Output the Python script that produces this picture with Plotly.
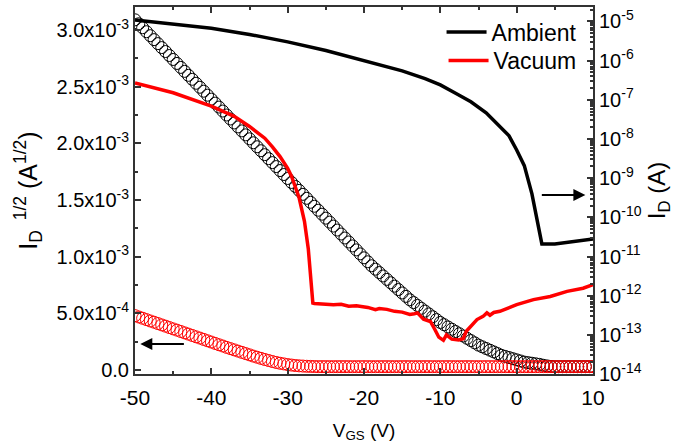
import plotly.graph_objects as go

# ---------------- data ----------------
vgs = [-50 + 0.5 * i for i in range(121)]  # 0.5 V steps, -50 .. 10

# sqrt(ID) ambient (x1e-3 A^1/2)
sqrt_ambient = [3.09, 3.055, 3.02, 2.985, 2.95, 2.915, 2.88, 2.845, 2.81, 2.775,
                2.74, 2.705, 2.67, 2.635, 2.60, 2.565, 2.53, 2.495, 2.46, 2.425,
                2.39, 2.355, 2.32, 2.285, 2.25, 2.215, 2.18, 2.145, 2.11, 2.075,
                2.04, 2.005, 1.97, 1.935, 1.90, 1.865, 1.83, 1.795, 1.76, 1.725,
                1.69, 1.655, 1.62, 1.585, 1.55, 1.515, 1.48, 1.445, 1.41, 1.375,
                1.34, 1.305, 1.27, 1.235, 1.20, 1.165, 1.13, 1.095, 1.06, 1.025,
                0.99,
                0.955, 0.92, 0.89, 0.86, 0.83, 0.80, 0.77, 0.74, 0.71, 0.68,
                0.65, 0.62, 0.595, 0.57, 0.545, 0.52, 0.495, 0.47, 0.445, 0.42,
                0.40, 0.38, 0.36, 0.34, 0.32, 0.30, 0.28, 0.26, 0.24, 0.22,
                0.205, 0.19, 0.175, 0.16, 0.145, 0.13, 0.12, 0.11, 0.10, 0.09,
                0.08, 0.07, 0.065, 0.06, 0.055, 0.05, 0.042, 0.036,
                0.032, 0.03, 0.03, 0.03, 0.03, 0.03, 0.03, 0.03, 0.03, 0.03, 0.03, 0.03]

# sqrt(ID) vacuum (x1e-3 A^1/2)
sqrt_vacuum = [0.480, 0.468, 0.457, 0.445, 0.433, 0.422, 0.410, 0.398, 0.387, 0.375,
               0.363, 0.352, 0.340, 0.328, 0.317, 0.305, 0.293, 0.282, 0.270, 0.258,
               0.247, 0.235, 0.223, 0.212, 0.200, 0.189, 0.178, 0.167, 0.156, 0.145,
               0.134, 0.123, 0.113, 0.103, 0.093, 0.084, 0.075, 0.067, 0.060, 0.054,
               0.048, 0.044, 0.040, 0.037, 0.035, 0.033, 0.032, 0.031] + [0.03] * 73

# log10(ID) ambient
amb_v = [-50, -45, -40, -35, -30, -25, -20, -15, -12, -10, -8, -6, -4, -2, -1,
         0, 1, 2, 3.3, 5, 7, 10]
amb_log = [-4.96, -5.06, -5.17, -5.33, -5.52, -5.74, -5.99, -6.26, -6.46, -6.62,
           -6.83, -7.05, -7.33, -7.71, -7.92, -8.28, -8.68, -9.40, -10.68, -10.68,
           -10.63, -10.55]

# log10(ID) vacuum
vac_v = [-50, -45, -40, -37, -35, -33, -32, -31, -30, -29.5, -28.5, -27.8, -27.3,
         -26.9, -26.7, -26.5, -25.5, -24, -23, -22, -21, -20, -19.5, -18.5, -18,
         -17, -16, -15, -14, -13.4, -13, -12.2, -11.3, -10.7, -10.2, -9.6, -9.2,
         -8.5, -7.6, -7.0, -6.6, -5.2, -4.4, -3.9, -3.5, -3.0, -2.2, 0, 2.2, 4.4,
         6.6, 8.7, 10]
vac_log = [-6.57, -6.82, -7.16, -7.42, -7.68, -7.98, -8.20, -8.45, -8.75, -8.95,
           -9.50, -10.1, -10.8, -11.6, -12.19, -12.20, -12.22, -12.23, -12.22,
           -12.27, -12.26, -12.28, -12.30, -12.36, -12.33, -12.35, -12.40, -12.42,
           -12.48, -12.46, -12.44, -12.60, -12.66, -12.87, -13.06, -13.14, -13.0,
           -13.11, -13.13, -13.1, -12.91, -12.61, -12.53, -12.44, -12.50, -12.43,
           -12.40, -12.23, -12.10, -12.02, -11.89, -11.81, -11.72]

x_tickvals = [-50, -40, -30, -20, -10, 0, 10]
x_ticktext = ["-50", "-40", "-30", "-20", "-10", "0", "10"]
left_tickvals = [0, 0.5e-3, 1.0e-3, 1.5e-3, 2.0e-3, 2.5e-3, 3.0e-3]
left_ticktext = ["0.0", "5.0x10<sup>-4</sup>", "1.0x10<sup>-3</sup>", "1.5x10<sup>-3</sup>",
                 "2.0x10<sup>-3</sup>", "2.5x10<sup>-3</sup>", "3.0x10<sup>-3</sup>"]
right_exps = list(range(-14, -4))
right_tickvals = [10.0 ** e for e in right_exps]
right_ticktext = ["10<sup>%d</sup>" % e for e in right_exps]

FONT = "Liberation Sans, Arial, sans-serif"
AX = "#333333"

fig = go.Figure()
fig.add_trace(go.Scatter(x=vgs, y=[v * 1e-3 for v in sqrt_ambient], mode="markers",
                         marker=dict(symbol="circle-open", size=12, color="black",
                                     line=dict(width=1)),
                         showlegend=False, yaxis="y"))
fig.add_trace(go.Scatter(x=vgs, y=[v * 1e-3 for v in sqrt_vacuum], mode="markers",
                         marker=dict(symbol="circle-open", size=12, color="red",
                                     line=dict(width=1)),
                         showlegend=False, yaxis="y"))
fig.add_trace(go.Scatter(x=amb_v, y=[10.0 ** v for v in amb_log], mode="lines",
                         line=dict(color="black", width=3.5), name="Ambient", yaxis="y2",
                         legend="legend"))
fig.add_trace(go.Scatter(x=vac_v, y=[10.0 ** v for v in vac_log], mode="lines",
                         line=dict(color="red", width=3.5), name="Vacuum", yaxis="y2",
                         legend="legend2"))

minor_log = [k * 10.0 ** e for e in range(-14, -4) for k in range(2, 10)]
left_minor = [0.25e-3 + 0.5e-3 * i for i in range(7)]

fig.update_layout(
    width=674, height=446,
    margin=dict(l=135, r=81, t=7, b=72),
    paper_bgcolor="white", plot_bgcolor="white",
    font=dict(family=FONT, size=20, color="black"),
    xaxis=dict(range=[-50, 10], tickvals=x_tickvals, ticktext=x_ticktext,
               ticks="inside", ticklen=6, tickwidth=1.5, tickcolor=AX,
               showline=True, linecolor=AX, linewidth=2, mirror="ticks",
               showgrid=False, zeroline=False, ticklabelstandoff=4, automargin=False,
               minor=dict(tickvals=[-45, -35, -25, -15, -5, 5], ticks="inside", ticklen=3,
                          tickcolor=AX),
               title=dict(text="V<sub>GS</sub> (V)", font=dict(size=19), standoff=15),
               tickfont=dict(size=21)),
    yaxis=dict(range=[-0.035e-3, 3.203e-3], tickvals=left_tickvals, ticktext=left_ticktext,
               ticks="inside", ticklen=6, tickwidth=1.5, tickcolor=AX, automargin=False,
               showline=True, linecolor=AX, linewidth=2, showgrid=False, zeroline=False,
               minor=dict(tickvals=left_minor, ticks="inside", ticklen=3, tickcolor=AX),
               title=dict(text="I<sub>D</sub><sup>  1/2</sup> (A<sup>1/2</sup>)",
                          font=dict(size=25), standoff=12),
               tickfont=dict(size=20)),
    yaxis2=dict(type="log", range=[-14, -4.63], overlaying="y", side="right",
                tickvals=right_tickvals, ticktext=right_ticktext, automargin=False,
                ticks="inside", ticklen=6, tickwidth=1.5, tickcolor=AX,
                showline=True, linecolor=AX, linewidth=2, showgrid=False, zeroline=False,
                minor=dict(tickvals=minor_log, ticks="inside", ticklen=3, tickcolor=AX),
                title=dict(text="I<sub>D</sub> (A)", font=dict(size=24), standoff=8),
                tickfont=dict(size=20)),
    legend=dict(x=0.975, xanchor="right", y=0.99, yanchor="top",
                bgcolor="rgba(0,0,0,0)", font=dict(size=23), itemwidth=40),
    legend2=dict(x=0.975, xanchor="right", y=0.913, yanchor="top",
                 bgcolor="rgba(0,0,0,0)", font=dict(size=23), itemwidth=40),
)

fig.add_annotation(x=-49.3, y=0.23e-3, ax=-43.4, ay=0.23e-3, xref="x", yref="y",
                   axref="x", ayref="y", text="", showarrow=True, arrowhead=2,
                   arrowsize=1.2, arrowwidth=2, arrowcolor="black")
fig.add_annotation(x=9.0, y=1.545e-3, ax=3.1, ay=1.545e-3, xref="x", yref="y",
                   axref="x", ayref="y", text="", showarrow=True, arrowhead=2,
                   arrowsize=1.2, arrowwidth=2, arrowcolor="black")

fig.write_html("out.html")
